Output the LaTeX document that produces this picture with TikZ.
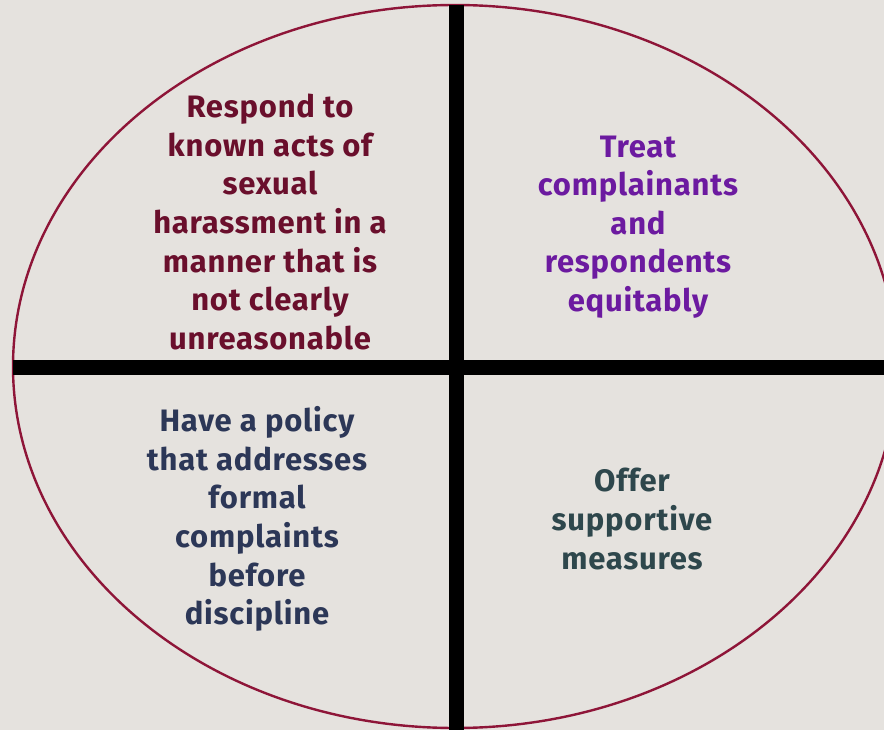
\documentclass[tikz,border=0pt]{standalone}
\usepackage{fontspec}
\setmainfont[Ligatures=NoCommon, LetterSpace=2.5]{Fira Sans}
\definecolor{bgcol}{HTML}{E5E2DE}
\definecolor{rimcol}{HTML}{8E1538}
\definecolor{maroontxt}{HTML}{6A0F2C}
\definecolor{purpletxt}{HTML}{6C1AA0}
\definecolor{navytxt}{HTML}{2C3757}
\definecolor{slatetxt}{HTML}{2E474C}
\tikzset{
  quad/.style={align=center, font=\fontsize{31}{38.6}\selectfont\bfseries, inner sep=0pt},
  divider/.style={line width=15pt, black},
  rim/.style={draw=rimcol, line width=2.4pt}
}
\begin{document}
\begin{tikzpicture}[x=1pt,y=-1pt]
  % canvas
  \fill[bgcol] (0,0) rectangle (884,730);
  \useasboundingbox (0,0) rectangle (884,730);
  \begin{scope}
    \clip (0,0) rectangle (884,730);
    % outer ellipse
    \draw[rim] (455,366.5) ellipse [x radius=442, y radius=361.5];
    % the cross dividing the four quadrants
    \coordinate (vtop) at (456,5);
    \coordinate (vbot) at (456,740);
    \coordinate (hleft) at (13,367.5);
    \coordinate (hright) at (900,367.5);
    \draw[divider] (vtop) -- (vbot);
    \draw[divider] (hleft) -- (hright);
  \end{scope}
  % quadrant texts
  \node[quad, text=maroontxt] (tl) at (270,222) {Respond to\\known acts of\\sexual\\harassment in a\\manner that is\\not clearly\\unreasonable};
  \node[quad, text=purpletxt] (tr) at (638,227) {Treat\\complainants\\and\\respondents\\equitably};
  \node[quad, text=navytxt] (bl) at (257,519) {Have a policy\\that addresses\\formal\\complaints\\before\\discipline};
  \node[quad, text=slatetxt] (br) at (632,519) {Offer\\supportive\\measures};
\end{tikzpicture}
\end{document}
